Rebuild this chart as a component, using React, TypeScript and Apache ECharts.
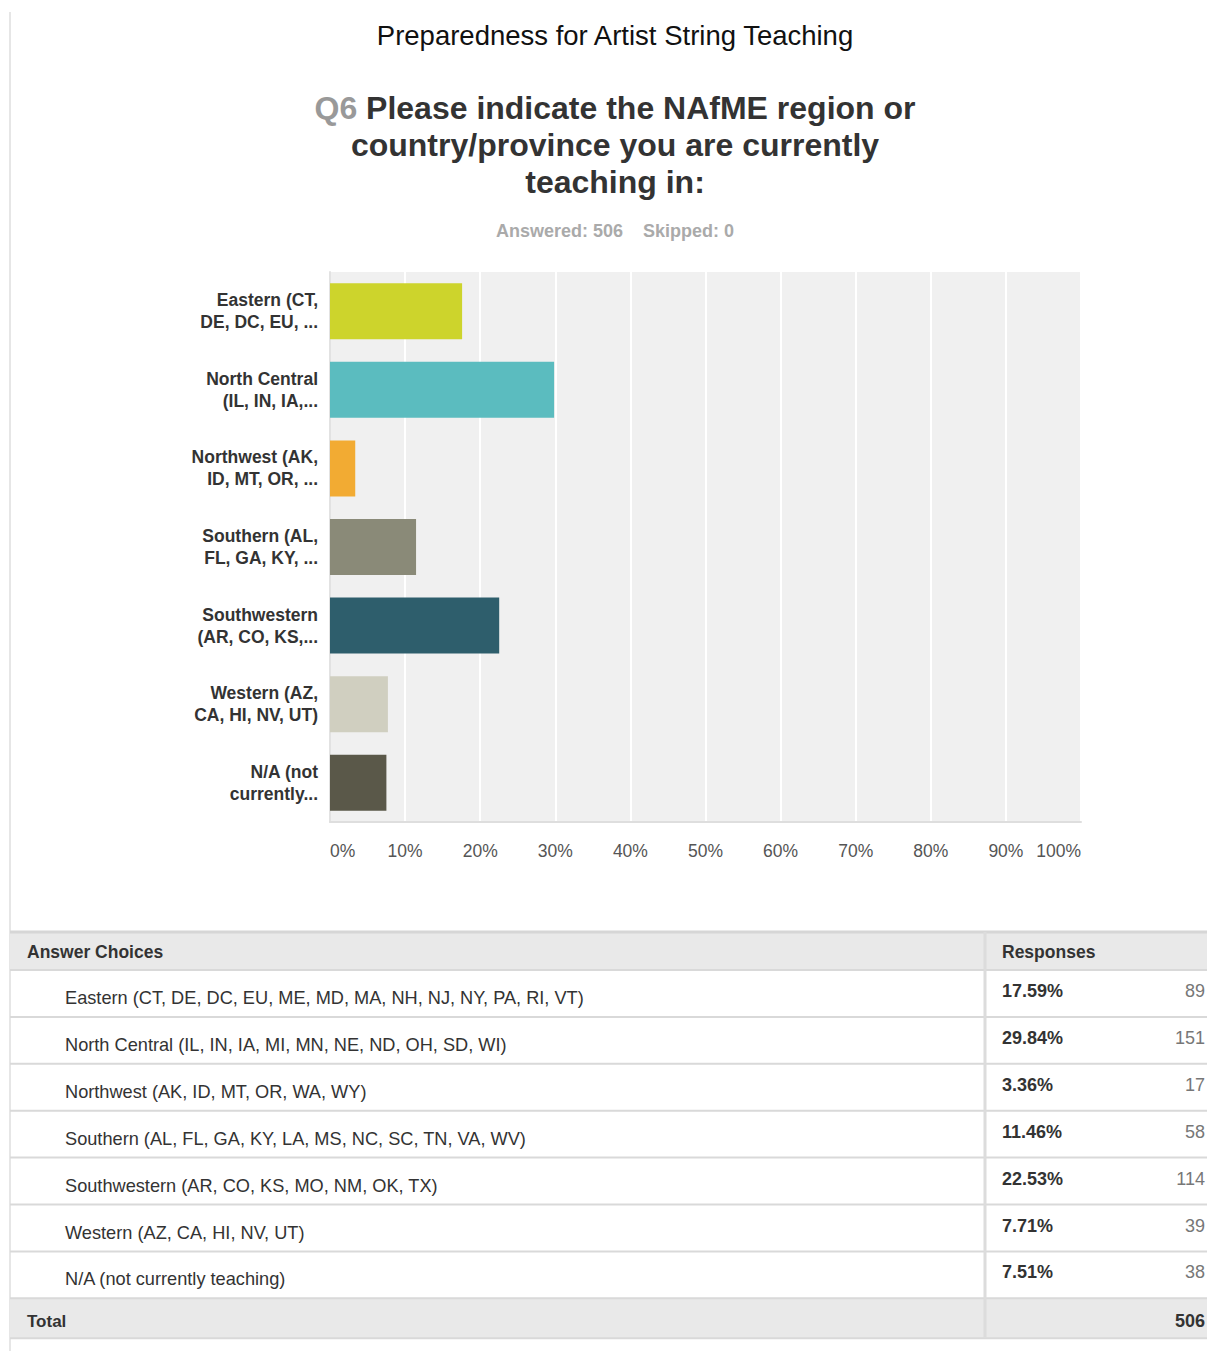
import React, { useEffect, useRef } from "react";
import * as echarts from "echarts";

const pageTitle = "Preparedness for Artist String Teaching";
const questionNo = "Q6";
const questionLines = [
  "Please indicate the NAfME region or",
  "country/province you are currently",
  "teaching in:",
];
const answeredText = "Answered: 506    Skipped: 0";

const categories = [
  "Eastern (CT,\nDE, DC, EU, ...",
  "North Central\n(IL, IN, IA,...",
  "Northwest (AK,\nID, MT, OR, ...",
  "Southern (AL,\nFL, GA, KY, ...",
  "Southwestern\n(AR, CO, KS,...",
  "Western (AZ,\nCA, HI, NV, UT)",
  "N/A (not\ncurrently...",
];
const percents = [17.59, 29.84, 3.36, 11.46, 22.53, 7.71, 7.51];
const counts = [89, 151, 17, 58, 114, 39, 38];
const totalCount = 506;
const barColors = ["#cdd42c", "#5bbcbf", "#f2ab33", "#8a8a78", "#2e5e6c", "#d0cfc0", "#5a5849"];
const answerChoices = [
  "Eastern (CT, DE, DC, EU, ME, MD, MA, NH, NJ, NY, PA, RI, VT)",
  "North Central (IL, IN, IA, MI, MN, NE, ND, OH, SD, WI)",
  "Northwest (AK, ID, MT, OR, WA, WY)",
  "Southern (AL, FL, GA, KY, LA, MS, NC, SC, TN, VA, WV)",
  "Southwestern (AR, CO, KS, MO, NM, OK, TX)",
  "Western (AZ, CA, HI, NV, UT)",
  "N/A (not currently teaching)",
];
const tableHeaders = ["Answer Choices", "Responses"];
const totalLabel = "Total";

const FONT = "'Liberation Sans', Arial, Helvetica, sans-serif";

function buildTable() {
  const els: any[] = [];
  const left = 10;
  const right = 1207;
  const divX = 985;
  const headTop = 932;
  const headH = 38;
  const rowH = 46.9;
  const totalH = 40;
  const rowsTop = headTop + headH;
  const totalTop = rowsTop + rowH * answerChoices.length;

  els.push({ type: "rect", shape: { x: left, y: headTop, width: right - left, height: headH }, style: { fill: "#e9e9e9" } });
  els.push({ type: "rect", shape: { x: left, y: totalTop, width: right - left, height: totalH }, style: { fill: "#e9e9e9" } });
  els.push({ type: "line", shape: { x1: left, y1: headTop, x2: right, y2: headTop }, style: { stroke: "#d6d6d6", lineWidth: 3 } });
  for (let i = 0; i <= answerChoices.length; i++) {
    const y = rowsTop + rowH * i;
    els.push({ type: "line", shape: { x1: left, y1: y, x2: right, y2: y }, style: { stroke: "#d9d9d9", lineWidth: 2 } });
  }
  els.push({ type: "line", shape: { x1: left, y1: totalTop + totalH, x2: right, y2: totalTop + totalH }, style: { stroke: "#d9d9d9", lineWidth: 2 } });
  els.push({ type: "line", shape: { x1: divX, y1: headTop, x2: divX, y2: totalTop + totalH }, style: { stroke: "#dcdcdc", lineWidth: 3 } });

  els.push({ type: "text", x: 27, y: headTop + headH / 2 + 1, style: { text: tableHeaders[0], fill: "#333", fontFamily: FONT, fontSize: 17.5, fontWeight: "bold", align: "left", verticalAlign: "middle" } });
  els.push({ type: "text", x: 1002, y: headTop + headH / 2 + 1, style: { text: tableHeaders[1], fill: "#333", fontFamily: FONT, fontSize: 17.5, fontWeight: "bold", align: "left", verticalAlign: "middle" } });

  answerChoices.forEach((label, i) => {
    const top = rowsTop + rowH * i;
    els.push({ type: "text", x: 65, y: top + 28, style: { text: label, fill: "#333", fontFamily: FONT, fontSize: 18.2, align: "left", verticalAlign: "middle" } });
    els.push({ type: "text", x: 1002, y: top + 21, style: { text: percents[i].toFixed(2) + "%", fill: "#333", fontFamily: FONT, fontSize: 18, fontWeight: "bold", align: "left", verticalAlign: "middle" } });
    els.push({ type: "text", x: 1205, y: top + 21, style: { text: String(counts[i]), fill: "#777", fontFamily: FONT, fontSize: 18, align: "right", verticalAlign: "middle" } });
  });
  els.push({ type: "text", x: 27, y: totalTop + totalH / 2 + 3, style: { text: totalLabel, fill: "#333", fontFamily: FONT, fontSize: 17, fontWeight: "bold", align: "left", verticalAlign: "middle" } });
  els.push({ type: "text", x: 1205, y: totalTop + totalH / 2 + 3, style: { text: String(totalCount), fill: "#333", fontFamily: FONT, fontSize: 18, fontWeight: "bold", align: "right", verticalAlign: "middle" } });
  return els;
}

export default function App() {
  const ref = useRef<HTMLDivElement>(null);
  useEffect(() => {
    if (!ref.current) return;
    const chart = echarts.init(ref.current, null, { renderer: "svg" });
    const graphics: any[] = [
      { type: "line", shape: { x1: 10, y1: 12, x2: 10, y2: 1351 }, style: { stroke: "#e6e6e6", lineWidth: 2 } },
      { type: "text", x: 615, y: 35, style: { text: pageTitle, fill: "#111", fontFamily: FONT, fontSize: 27.5, align: "center", verticalAlign: "middle" } },
      {
        type: "text", x: 615, y: 108,
        style: {
          text: "{q|" + questionNo + "}{b| " + questionLines[0] + "}",
          align: "center", verticalAlign: "middle",
          rich: {
            q: { fill: "#999", fontFamily: FONT, fontSize: 32, fontWeight: "bold" },
            b: { fill: "#333", fontFamily: FONT, fontSize: 32, fontWeight: "bold" },
          },
        },
      },
      { type: "text", x: 615, y: 145, style: { text: questionLines[1], fill: "#333", fontFamily: FONT, fontSize: 32, fontWeight: "bold", align: "center", verticalAlign: "middle" } },
      { type: "text", x: 615, y: 182, style: { text: questionLines[2], fill: "#333", fontFamily: FONT, fontSize: 32, fontWeight: "bold", align: "center", verticalAlign: "middle" } },
      { type: "text", x: 615, y: 231, style: { text: answeredText, fill: "#aaa", fontFamily: FONT, fontSize: 18, fontWeight: "bold", align: "center", verticalAlign: "middle" } },
      ...buildTable(),
    ];
    chart.setOption({
      animation: false,
      backgroundColor: "#fff",
      grid: { left: 330, right: 126, top: 272, bottom: 529, show: true, backgroundColor: "#f0f0f0", borderWidth: 0, containLabel: false },
      xAxis: {
        type: "value", min: 0, max: 100, interval: 10,
        axisLine: { show: true, lineStyle: { color: "#dedede", width: 2 } },
        axisTick: { show: false },
        splitLine: { show: true, lineStyle: { color: "#ffffff", width: 2 } },
        axisLabel: { formatter: "{value}%", color: "#555", fontFamily: FONT, fontSize: 17.5, margin: 20, alignMinLabel: "left", alignMaxLabel: "right" },
      },
      yAxis: {
        type: "category", data: categories, inverse: true,
        axisLine: { show: true, lineStyle: { color: "#e2e2e2", width: 2 } },
        axisTick: { show: false },
        axisLabel: { color: "#333", fontFamily: FONT, fontSize: 17.5, fontWeight: "bold", lineHeight: 22, margin: 12, align: "right" },
      },
      series: [
        {
          type: "bar",
          data: percents.map((v, i) => ({ value: v, itemStyle: { color: barColors[i] } })),
          barWidth: 56,
        },
      ],
      graphic: graphics,
    });
    return () => chart.dispose();
  }, []);
  return <div ref={ref} style={{ position: "fixed", left: 0, top: 0, width: 1207, height: 1351, background: "#fff" }} />;
}
